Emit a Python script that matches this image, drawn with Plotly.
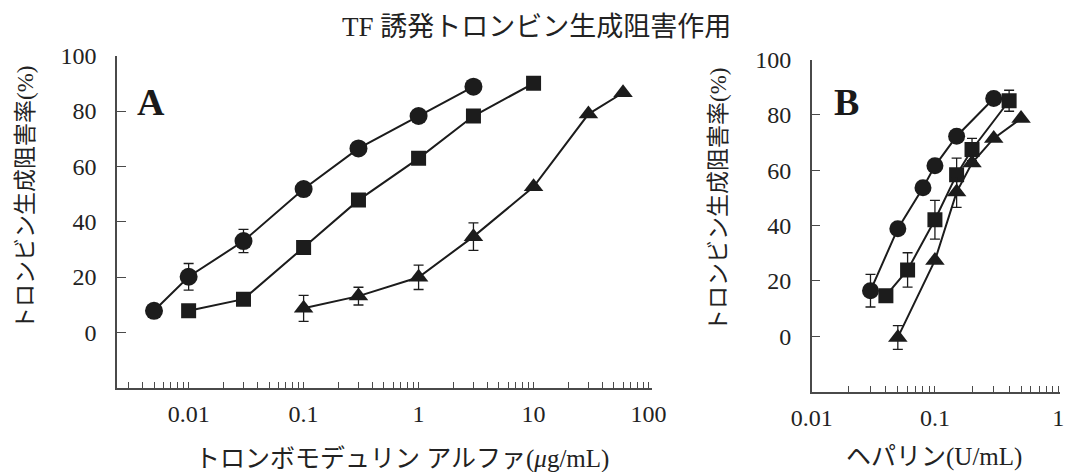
import plotly.graph_objects as go

# ---------------- data ----------------
title_text = "TF 誘発トロンビン生成阻害作用"
y_title = "トロンビン生成阻害率(%)"
xA_title = "トロンボモデュリン アルファ(<i>μ</i>g/mL)"
xB_title = "ヘパリン(U/mL)"

y_tickvals = [0, 20, 40, 60, 80, 100]
y_ticktext = ["0", "20", "40", "60", "80", "100"]
xA_tickvals = [0.01, 0.1, 1, 10, 100]
xA_ticktext = ["0.01", "0.1", "1", "10", "100"]
xB_tickvals = [0.01, 0.1, 1]
xB_ticktext = ["0.01", "0.1", "1"]

# Panel A
A_circle_x = [0.005, 0.01, 0.03, 0.1, 0.3, 1, 3]
A_circle_y = [7.8, 20.1, 33.0, 51.8, 66.5, 78.2, 88.8]
A_circle_err = [0, 4.8, 4.2, 0, 0, 0, 0]

A_square_x = [0.01, 0.03, 0.1, 0.3, 1, 3, 10]
A_square_y = [7.8, 12.0, 30.7, 47.8, 62.9, 78.2, 90.0]
A_square_err = [0, 0, 0, 0, 0, 0, 0]

A_tri_x = [0.1, 0.3, 1, 3, 10, 30, 60]
A_tri_y = [8.7, 13.1, 19.9, 34.6, 52.6, 78.9, 86.6]
A_tri_err = [4.7, 3.2, 4.4, 5.0, 0, 0, 0]

# Panel B
B_circle_x = [0.03, 0.05, 0.08, 0.1, 0.15, 0.3]
B_circle_y = [16.5, 38.9, 53.7, 61.6, 72.3, 85.9]
B_circle_err = [5.9, 0, 0, 0, 0, 0]

B_square_x = [0.04, 0.06, 0.1, 0.15, 0.2, 0.4]
B_square_y = [14.7, 24.0, 42.1, 58.4, 67.5, 85.1]
B_square_err = [0, 6.2, 7.0, 6.0, 4.0, 3.8]

B_tri_x = [0.05, 0.1, 0.15, 0.2, 0.3, 0.5]
B_tri_y = [-0.4, 27.4, 52.1, 62.6, 71.5, 78.7]
B_tri_err = [4.3, 0, 5.5, 0, 0, 0]

# ---------------- style ----------------
INK = "#1c1c1c"
AXC = "#4a4a4a"
SERIF = "Liberation Serif, Noto Sans CJK JP, serif"
W, H = 1065, 472

fig = go.Figure()


def add_series(x, y, err, symbol, size, xa, ya):
    fig.add_trace(go.Scatter(
        x=x, y=y, mode="lines+markers",
        xaxis=xa, yaxis=ya,
        line=dict(color=INK, width=2),
        marker=dict(symbol=symbol, size=size, color=INK,
                    line=dict(width=0)),
        error_y=dict(type="data", array=err, visible=True,
                     color=INK, thickness=1.3, width=5),
        showlegend=False, hoverinfo="skip",
    ))


add_series(A_circle_x, A_circle_y, A_circle_err, "circle", 18, "x", "y")
add_series(A_square_x, A_square_y, A_square_err, "square", 15, "x", "y")
add_series(A_tri_x, A_tri_y, A_tri_err, "triangle-up", 17, "x", "y")

add_series(B_circle_x, B_circle_y, B_circle_err, "circle", 17, "x2", "y2")
add_series(B_square_x, B_square_y, B_square_err, "square", 15, "x2", "y2")
add_series(B_tri_x, B_tri_y, B_tri_err, "triangle-up", 17, "x2", "y2")


def minor_vals(lo_exp, hi_exp):
    vals = []
    for e in range(lo_exp, hi_exp + 1):
        for m in range(2, 10):
            vals.append(m * 10 ** e)
    return vals


tickfont = dict(family=SERIF, size=24, color="#222")

xcommon = dict(type="log", showline=True, linecolor=AXC, linewidth=1.5,
               showgrid=False, zeroline=False, ticks="inside", ticklen=6,
               tickwidth=1.2, tickcolor=AXC, tickmode="array",
               tickfont=tickfont, ticklabelstandoff=4, automargin=False)
ycommon = dict(showline=True, linecolor=AXC, linewidth=1.5, showgrid=False,
               zeroline=False, ticks="inside", ticklen=9, tickwidth=1.2,
               tickcolor=AXC, range=[-20, 100], tickmode="array",
               tickvals=y_tickvals, ticktext=y_ticktext, tickfont=tickfont,
               ticklabelstandoff=14, automargin=False)


def px_x(p):
    return p / W


def px_y(p):
    return 1 - p / H


fig.update_layout(
    width=W, height=H,
    margin=dict(l=0, r=0, t=0, b=0, autoexpand=False),
    paper_bgcolor="white", plot_bgcolor="white",
    xaxis=dict(**xcommon, domain=[px_x(117), px_x(652)],
               range=[-2.623, 2.03], anchor="y",
               tickvals=xA_tickvals, ticktext=xA_ticktext,
               minor=dict(ticks="inside", ticklen=6, tickwidth=1.2,
                          tickcolor=AXC, tickvals=minor_vals(-3, 1))),
    yaxis=dict(**ycommon, domain=[px_y(387.7), px_y(55.7)], anchor="x"),
    xaxis2=dict(**xcommon, domain=[px_x(811.7), px_x(1060)],
                range=[-2, 0.015], anchor="y2",
                tickvals=xB_tickvals, ticktext=xB_ticktext,
                minor=dict(ticks="inside", ticklen=6, tickwidth=1.2,
                           tickcolor=AXC, tickvals=minor_vals(-2, -1))),
    yaxis2=dict(**ycommon, domain=[px_y(391.7), px_y(59.5)], anchor="x2"),
)

ann_font = dict(family=SERIF, size=25, color="#222")
annotations = [
    dict(text=title_text, x=px_x(536), y=px_y(27), font=dict(family=SERIF, size=27, color="#222")),
    dict(text=y_title, x=px_x(25), y=px_y(198), textangle=-90, font=dict(family=SERIF, size=23, color="#222")),
    dict(text=y_title, x=px_x(718), y=px_y(200), textangle=-90, font=dict(family=SERIF, size=23, color="#222")),
    dict(text=xA_title, x=px_x(402), y=px_y(459), font=ann_font),
    dict(text=xB_title, x=px_x(934), y=px_y(457), font=ann_font),
    dict(text="<b>A</b>", x=px_x(151), y=px_y(102), font=dict(family=SERIF, size=38, color="#1a1a1a")),
    dict(text="<b>B</b>", x=px_x(846), y=px_y(102), font=dict(family=SERIF, size=38, color="#1a1a1a")),
]
for a in annotations:
    fig.add_annotation(xref="paper", yref="paper", showarrow=False,
                       xanchor="center", yanchor="middle", **a)

fig.write_html("out.html")
